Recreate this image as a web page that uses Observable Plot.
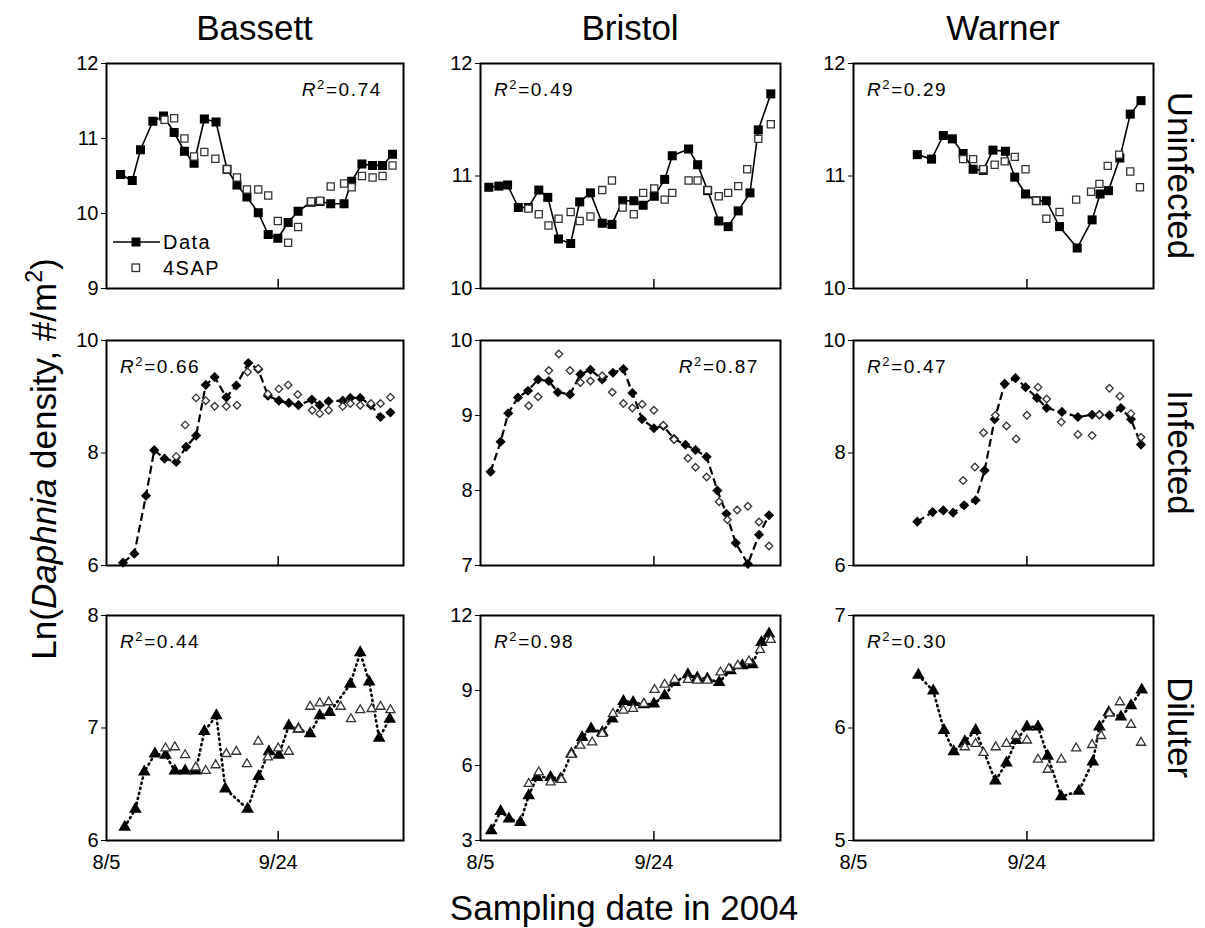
<!DOCTYPE html>
<html><head><meta charset="utf-8">
<script src="https://cdn.jsdelivr.net/npm/d3@7"></script>
<script src="https://cdn.jsdelivr.net/npm/@observablehq/plot@0.6"></script>
<style>
body{margin:0;background:#fff;}
#root{position:relative;width:1205px;height:928px;overflow:hidden;background:#fff;font-family:'Liberation Sans',Arial,sans-serif;}
.panel{position:absolute;}
.panel svg{display:block;}
#overlay{position:absolute;left:0;top:0;pointer-events:none;}
</style></head><body><div id="root"></div>
<script>
// ---------- labels ----------
const sites = ["Bassett", "Bristol", "Warner"];
const groups = ["Uninfected", "Infected", "Diluter"];
const xTickValues = [0, 50];               // days after 8/5
const xTickLabels = ["8/5", "9/24"];
const xDomain = [0, 86.5];
const xTitle = "Sampling date in 2004";
const legendLabels = ["Data", "4SAP"];
const r2Values = [["0.74", "0.49", "0.29"], ["0.66", "0.87", "0.47"], ["0.44", "0.98", "0.30"]];
const yDomains = [[[9, 12], [10, 12], [10, 12]], [[6, 10], [7, 10], [6, 10]], [[6, 8], [3, 12], [5, 7]]];
const yTicks = [[[9, 10, 11, 12], [10, 11, 12], [10, 11, 12]], [[6, 8, 10], [7, 8, 9, 10], [6, 8, 10]], [[6, 7, 8], [3, 6, 9, 12], [5, 6, 7]]];

// ---------- data: [day after 8/5, ln density] ----------
const bassettUninfData = [[4.1,10.52],[7.5,10.44],[9.9,10.85],[13.5,11.23],[16.6,11.30],[19.7,11.08],[22.7,10.83],[25.5,10.67],[28.5,11.26],[31.9,11.22],[35.1,10.59],[38.0,10.38],[40.9,10.22],[44.2,10.01],[47.1,9.72],[49.9,9.67],[52.9,9.88],[55.8,10.03],[59.6,10.15],[62.2,10.16],[65.3,10.13],[69.2,10.13],[71.4,10.43],[74.4,10.66],[77.5,10.64],[80.4,10.64],[83.3,10.79]];
const bassettUninf4SAP = [[16.9,11.25],[19.7,11.27],[22.7,11.0],[25.5,10.76],[28.5,10.82],[31.7,10.73],[35.1,10.59],[38.0,10.48],[40.9,10.32],[44.2,10.32],[47.1,10.24],[49.9,9.90],[52.9,9.61],[55.8,9.82],[59.6,10.16],[62.2,10.17],[65.3,10.36],[69.2,10.40],[71.4,10.35],[74.4,10.50],[77.5,10.48],[80.4,10.50],[83.3,10.64]];
const bristolUninfData = [[2.4,10.90],[5.3,10.91],[7.8,10.92],[10.9,10.72],[13.8,10.72],[16.8,10.875],[19.4,10.81],[22.5,10.44],[26.0,10.40],[28.6,10.77],[31.7,10.85],[35.1,10.58],[37.9,10.57],[41.0,10.78],[44.2,10.78],[46.9,10.74],[50.1,10.82],[53.1,10.97],[55.3,11.18],[60.0,11.24],[62.6,11.10],[65.5,10.87],[68.7,10.60],[71.4,10.55],[74.3,10.69],[77.7,10.85],[80.1,11.41],[83.7,11.73]];
const bristolUninf4SAP = [[13.8,10.71],[16.8,10.66],[19.6,10.56],[22.5,10.62],[26.0,10.68],[28.6,10.60],[31.7,10.64],[35.1,10.875],[37.9,10.96],[41.0,10.72],[44.2,10.66],[46.9,10.85],[50.1,10.89],[53.1,10.79],[55.3,10.85],[60.0,10.96],[62.6,10.96],[65.5,10.875],[68.7,10.82],[71.4,10.85],[74.3,10.91],[76.9,11.06],[80.1,11.33],[83.7,11.46]];
const warnerUninfData = [[18.4,11.19],[22.5,11.15],[25.9,11.36],[28.5,11.33],[31.6,11.20],[34.5,11.06],[37.4,11.05],[40.2,11.23],[43.8,11.22],[46.5,10.99],[49.6,10.84],[52.7,10.78],[55.6,10.78],[59.4,10.55],[64.5,10.36],[68.8,10.61],[71.1,10.84],[73.5,10.87],[76.8,11.16],[79.8,11.55],[82.9,11.67]];
const warnerUninf4SAP = [[31.6,11.15],[34.5,11.15],[37.4,11.06],[40.7,11.10],[43.6,11.13],[46.5,11.17],[49.6,11.06],[52.7,10.78],[55.6,10.62],[59.4,10.68],[64.2,10.79],[68.5,10.86],[70.9,10.93],[73.3,11.09],[76.6,11.19],[79.8,11.04],[82.6,10.90]];

const bassettInfData = [[4.8,6.05],[8.1,6.21],[11.5,7.24],[13.9,8.05],[16.9,7.90],[20.3,7.84],[23.2,8.11],[26.1,8.31],[28.9,9.21],[31.5,9.35],[34.9,8.99],[37.8,9.20],[41.3,9.60],[44.2,9.49],[47.0,9.02],[50.2,8.93],[53.1,8.89],[55.9,8.85],[59.8,8.95],[62.1,8.85],[64.7,8.92],[68.8,8.93],[71.0,8.98],[73.9,8.98],[77.0,8.85],[79.8,8.64],[82.7,8.72]];
const bassettInf4SAP = [[20.3,7.94],[22.9,8.50],[26.1,8.98],[28.9,8.93],[31.5,8.83],[34.9,8.83],[38.0,8.85],[41.1,9.44],[44.2,9.50],[47.0,9.05],[50.2,9.14],[52.9,9.21],[55.7,9.04],[59.9,8.76],[62.1,8.70],[64.7,8.76],[68.8,8.83],[71.0,8.88],[73.9,8.85],[77.0,8.88],[79.8,8.88],[82.7,8.99]];
const bristolInfData = [[2.9,8.25],[5.8,8.65],[8.0,9.03],[10.8,9.24],[13.7,9.33],[16.6,9.48],[19.7,9.46],[22.3,9.31],[25.8,9.28],[28.8,9.55],[31.7,9.61],[35.1,9.48],[38.2,9.57],[41.2,9.62],[43.8,9.30],[46.6,8.95],[50.0,8.83],[52.7,8.86],[55.8,8.69],[59.1,8.61],[62.0,8.54],[65.2,8.45],[68.3,8.00],[70.9,7.69],[73.6,7.30],[77.1,7.02],[80.3,7.41],[83.2,7.67]];
const bristolInf4SAP = [[13.9,9.13],[16.6,9.25],[19.7,9.60],[22.6,9.82],[25.8,9.60],[28.8,9.44],[31.7,9.46],[35.1,9.53],[38.0,9.31],[41.2,9.16],[43.8,9.10],[46.6,9.15],[50.0,9.07],[52.7,8.87],[55.8,8.68],[59.8,8.43],[62.0,8.31],[65.2,8.18],[68.8,7.85],[71.2,7.61],[74.0,7.74],[77.1,7.79],[80.3,7.58],[83.2,7.26]];
const warnerInfData = [[18.4,6.78],[22.8,6.95],[25.9,6.98],[28.7,6.94],[31.9,7.07],[35.2,7.16],[37.8,7.69],[40.7,8.60],[43.6,9.23],[46.7,9.33],[49.6,9.17],[52.9,8.98],[55.7,8.80],[60.1,8.73],[64.7,8.64],[68.8,8.68],[70.9,8.68],[73.8,8.67],[77.1,8.80],[80.0,8.60],[82.9,8.15]];
const warnerInf4SAP = [[31.6,7.51],[35.0,7.75],[37.5,8.36],[40.9,8.67],[44.1,8.48],[46.9,8.25],[50.0,8.67],[53.2,9.17],[55.7,8.96],[59.9,8.55],[64.7,8.33],[68.8,8.31],[70.9,8.68],[73.8,9.15],[76.8,9.01],[80.0,8.70],[82.9,8.28]];

const bassettDilData = [[5.3,6.12],[8.4,6.28],[11.0,6.61],[14.1,6.77],[17.2,6.76],[19.9,6.62],[22.9,6.62],[26.0,6.62],[28.5,6.97],[32.0,7.11],[34.6,6.46],[41.1,6.28],[44.3,6.57],[47.3,6.79],[50.2,6.76],[53.1,7.02],[55.9,6.99],[59.3,6.95],[62.1,7.11],[65.0,7.14],[71.0,7.39],[73.9,7.67],[76.5,7.41],[79.4,6.91],[82.5,7.08]];
const bassettDil4SAP = [[17.2,6.82],[19.9,6.83],[22.9,6.76],[26.0,6.65],[28.9,6.62],[31.8,6.67],[34.9,6.77],[37.8,6.79],[40.9,6.68],[44.2,6.88],[47.0,6.74],[50.0,6.82],[53.1,6.79],[55.9,6.99],[59.3,7.19],[62.1,7.22],[64.7,7.23],[68.2,7.19],[71.2,7.08],[73.9,7.16],[77.2,7.17],[79.8,7.19],[82.7,7.16]];
const bristolDilData = [[3.1,3.40],[5.8,4.17],[8.2,3.87],[11.5,3.73],[13.9,4.80],[16.3,5.53],[20.2,5.53],[23.1,5.47],[26.2,6.47],[29.3,7.13],[31.9,7.47],[35.1,7.33],[38.0,7.87],[41.2,8.57],[44.0,8.53],[47.1,8.44],[50.0,8.47],[53.1,8.80],[56.0,9.33],[59.8,9.64],[62.5,9.51],[65.4,9.47],[68.8,9.33],[72.1,9.80],[75.5,10.00],[78.4,10.04],[81.0,10.93],[83.2,11.27]];
const bristolDil4SAP = [[13.9,5.27],[16.8,5.73],[20.2,5.33],[23.3,5.43],[26.2,6.44],[28.8,6.80],[32.2,6.93],[35.1,7.27],[38.2,8.07],[41.2,8.20],[44.0,8.27],[47.1,8.47],[50.2,9.03],[53.1,9.24],[56.0,9.43],[59.8,9.43],[62.5,9.40],[65.4,9.40],[69.2,9.73],[71.6,9.87],[74.2,10.00],[77.4,10.17],[80.6,10.63],[83.7,11.03]];
const warnerDilData = [[18.7,6.47],[23.0,6.33],[26.1,5.98],[28.9,5.79],[32.1,5.88],[35.2,5.98],[40.9,5.53],[44.1,5.69],[46.9,5.89],[50.0,6.01],[53.2,6.01],[56.0,5.75],[59.9,5.39],[65.0,5.44],[69.0,5.70],[70.9,6.01],[73.6,6.14],[77.1,6.10],[80.0,6.20],[83.1,6.34]];
const warnerDil4SAP = [[32.1,5.83],[35.2,5.86],[37.5,5.78],[41.0,5.83],[44.1,5.86],[46.9,5.93],[50.0,5.89],[53.2,5.72],[56.0,5.63],[59.9,5.72],[64.2,5.82],[68.8,5.85],[71.4,5.93],[73.8,6.13],[76.8,6.23],[80.0,6.03],[82.9,5.87]];

const observed = [[bassettUninfData, bristolUninfData, warnerUninfData], [bassettInfData, bristolInfData, warnerInfData], [bassettDilData, bristolDilData, warnerDilData]];
const predicted = [[bassettUninf4SAP, bristolUninf4SAP, warnerUninf4SAP], [bassettInf4SAP, bristolInf4SAP, warnerInf4SAP], [bassettDil4SAP, bristolDil4SAP, warnerDil4SAP]];

// ---------- layout / style ----------
const colLeft = [106, 480, 853], colWidth = [297, 300, 300];
const rowTop = [63, 340, 615], rowHeight = 225;
const mL = 50, mR = 14, mT = 14, mB = 40;
const symbols = ["square", "diamond2", "triangle"];
const dashes = [undefined, "8,4", "1.2,4"];
const lineWidths = [1.6, 2.2, 2.6];
const rObs = [5.1, 4.6, 4.7], rPred = [4.0, 3.4, 3.4];
const r2Side = [["end", "start", "start"], ["start", "end", "start"], ["start", "start", "start"]];
const FONT = "'Liberation Sans', Arial, sans-serif";

const root = document.getElementById("root");

for (let r = 0; r < 3; r++) {
  for (let c = 0; c < 3; c++) {
    const [y0, y1] = yDomains[r][c];
    const obs = observed[r][c].map(([d, v]) => ({d, v}));
    const pred = predicted[r][c].map(([d, v]) => ({d, v}));
    const marks = [
      Plot.axisY({ticks: yTicks[r][c], tickSize: 5, tickPadding: 3, label: null, fontSize: 20, tickFormat: d => String(d)}),
      Plot.ruleX(xTickValues.slice(1), {x: d => d, y1: y0, y2: y0 + (y1 - y0) * 0.04, stroke: "black", strokeWidth: 1.5}),
      Plot.line(obs, {x: "d", y: "v", stroke: "black", strokeWidth: lineWidths[r], strokeDasharray: dashes[r], strokeLinecap: r === 2 ? "round" : "butt"}),
      Plot.dot(obs, {x: "d", y: "v", symbol: symbols[r], fill: "black", r: rObs[r]}),
      Plot.dot(pred, {x: "d", y: "v", symbol: symbols[r], fill: "white", stroke: "#333", strokeWidth: 1.3, r: rPred[r]}),
      Plot.frame({stroke: "black", strokeWidth: 2})
    ];
    if (r === 2) {
      marks.push(Plot.axisX({ticks: xTickValues, tickFormat: d => xTickLabels[xTickValues.indexOf(d)], tickSize: 0, tickPadding: 14, fontSize: 20, label: null}));
    }
    const chart = Plot.plot({
      width: colWidth[c] + mL + mR,
      height: rowHeight + mT + mB,
      marginLeft: mL, marginRight: mR, marginTop: mT, marginBottom: mB,
      x: {domain: xDomain, axis: r === 2 ? undefined : null},
      y: {domain: [y0, y1]},
      style: {fontSize: "20px", fontFamily: FONT, color: "black", background: "transparent", overflow: "visible"},
      marks
    });
    const div = document.createElement("div");
    div.className = "panel";
    div.style.left = (colLeft[c] - mL) + "px";
    div.style.top = (rowTop[r] - mT) + "px";
    div.appendChild(chart);
    root.appendChild(div);
  }
}

// ---------- overlay text ----------
const svg = d3.select(root).append("svg").attr("id", "overlay")
  .attr("width", 1205).attr("height", 928)
  .style("font-family", FONT);

sites.forEach((s, c) => {
  svg.append("text").attr("x", colLeft[c] + colWidth[c] / 2).attr("y", 40)
    .attr("text-anchor", "middle").attr("font-size", 35).text(s);
});
groups.forEach((g, r) => {
  svg.append("text").attr("transform", `translate(1168,${rowTop[r] + rowHeight / 2}) rotate(90)`)
    .attr("text-anchor", "middle").attr("font-size", 35).text(g);
});
svg.append("text").attr("x", 624).attr("y", 920).attr("text-anchor", "middle")
  .attr("font-size", 35).text(xTitle);

const yl = svg.append("text").attr("transform", "translate(56,459) rotate(-90)")
  .attr("text-anchor", "middle").attr("font-size", 35);
yl.append("tspan").text("Ln(");
yl.append("tspan").attr("font-style", "italic").text("Daphnia");
yl.append("tspan").text(" density,  #/m");
yl.append("tspan").attr("font-size", 23).attr("dy", -14).text("2");
yl.append("tspan").attr("dy", 14).text(")");

for (let r = 0; r < 3; r++) {
  for (let c = 0; c < 3; c++) {
    const side = r2Side[r][c];
    const x = side === "start" ? colLeft[c] + 14 : colLeft[c] + colWidth[c] - 21;
    const t = svg.append("text").attr("x", x).attr("y", rowTop[r] + 33)
      .attr("text-anchor", side).attr("font-size", 19).attr("letter-spacing", 1.6);
    t.append("tspan").attr("font-style", "italic").text("R");
    t.append("tspan").attr("font-size", 13).attr("dy", -7).text("2");
    t.append("tspan").attr("dy", 7).text("=" + r2Values[r][c]);
  }
}

// legend (Bassett, Uninfected panel)
const lg = svg.append("g");
const lx = colLeft[0] + 30, ly = rowTop[0] + 179;
lg.append("line").attr("x1", lx - 23).attr("x2", lx + 24).attr("y1", ly).attr("y2", ly)
  .attr("stroke", "black").attr("stroke-width", 1.6);
lg.append("rect").attr("x", lx - 4.5).attr("y", ly - 4.5).attr("width", 9).attr("height", 9).attr("fill", "black");
lg.append("rect").attr("x", lx - 4).attr("y", ly + 22).attr("width", 7.5).attr("height", 7.5)
  .attr("fill", "white").attr("stroke", "#333").attr("stroke-width", 1.3);
legendLabels.forEach((l, i) => {
  lg.append("text").attr("x", lx + 27).attr("y", ly + 7 + i * 26).attr("font-size", 20)
    .attr("letter-spacing", 1.5).text(l);
});
</script></body></html>
